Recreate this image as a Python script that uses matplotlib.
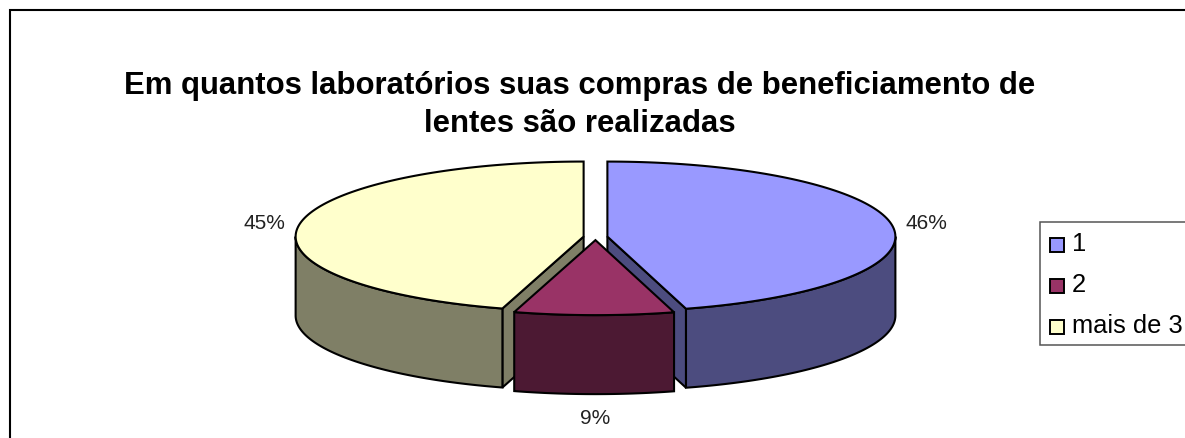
import numpy as np
import matplotlib
matplotlib.use("Agg")
import matplotlib.pyplot as plt
from matplotlib.patches import Polygon, Rectangle

plt.rcParams['font.family'] = ['Liberation Sans', 'DejaVu Sans']

# values
categories = ["1", "2", "mais de 3"]
values = [45.6, 8.95, 45.45]
top_colors = ["#9999FF", "#993366", "#FFFFCC"]
side_colors = ["#4C4C7F", "#4C1933", "#7F7F66"]
title_lines = ["Em quantos laboratórios suas compras de beneficiamento de",
	"lentes são realizadas"]

# pie geometry, in pixels of the picture
cx, cy = 595.5, 238
rx, ry = 288, 75
depth = 79
explode = 12
lw = 1.5


def arc(x0, y0, a0, a1):
	# angles are clockwise from 12 o'clock
	t = np.radians(np.linspace(a0, a1, 120))
	return np.column_stack([x0 + rx*np.sin(t), y0 - ry*np.cos(t)])


def draw_slice(ax, a0, a1, top, side, z):
	mid = np.radians((a0 + a1)/2)
	x0 = cx + explode*np.sin(mid)
	y0 = cy - explode*np.cos(mid)*ry/rx
	down = np.array([0, depth])
	apex = np.array([x0, y0])
	edge = arc(x0, y0, a0, a1)

	# cut faces, only the ones turned towards us
	if a0 > 180:
		wall = np.array([apex, edge[0], edge[0] + down, apex + down])
		ax.add_patch(Polygon(wall, fc=side, ec="black", lw=lw, zorder=z))
	if a1 < 180:
		wall = np.array([apex, edge[-1], edge[-1] + down, apex + down])
		ax.add_patch(Polygon(wall, fc=side, ec="black", lw=lw, zorder=z))

	# outer wall, front half of the rim
	lo, hi = max(a0, 90), min(a1, 270)
	if lo < hi:
		rim = arc(x0, y0, lo, hi)
		wall = np.vstack([rim, rim[::-1] + down])
		ax.add_patch(Polygon(wall, fc=side, ec="black", lw=lw, zorder=z + 1))

	ax.add_patch(Polygon(np.vstack([apex, edge]), fc=top, ec="black", lw=lw, zorder=z + 2))


fig = plt.figure(figsize=(11.85, 4.39), dpi=100)
ax = fig.add_axes([0, 0, 1, 1])
ax.set_xlim(0, 1185)
ax.set_ylim(439, 0)
ax.axis("off")

# chart frame, runs off the right and bottom of the picture
ax.add_patch(Rectangle((9.5, 10.5), 1300, 600, fc="white", ec="black", lw=1.5, zorder=0))

ax.text(580, 86, title_lines[0], ha="center", va="center", fontsize=22.4, fontweight="bold")
ax.text(580, 124, title_lines[1], ha="center", va="center", fontsize=22.4, fontweight="bold")

angles = np.cumsum([0] + values)/sum(values)*360
order = [0, 2, 1]
for n, i in enumerate(order):
	draw_slice(ax, angles[i], angles[i + 1], top_colors[i], side_colors[i], 2 + n*4)

# percentage labels
label_pos = [(926, 224), (595, 419), (264, 224)]
for v, (lx, ly) in zip(values, label_pos):
	ax.text(lx, ly, f"{round(v)}%", ha="center", va="center", fontsize=15, color="#222222")

# legend box
ax.add_patch(Rectangle((1040, 223), 200, 123, fc="white", ec="#555555", lw=1.1, zorder=20))
for k, (name, col) in enumerate(zip(categories, top_colors)):
	y = 245.5 + k*41
	ax.add_patch(Rectangle((1050, y - 7), 14, 14, fc=col, ec="black", lw=1.4, zorder=21))
	ax.text(1072, y - 1, name, ha="left", va="center", fontsize=18.4, zorder=21)

fig.savefig("out.png", dpi=100)
